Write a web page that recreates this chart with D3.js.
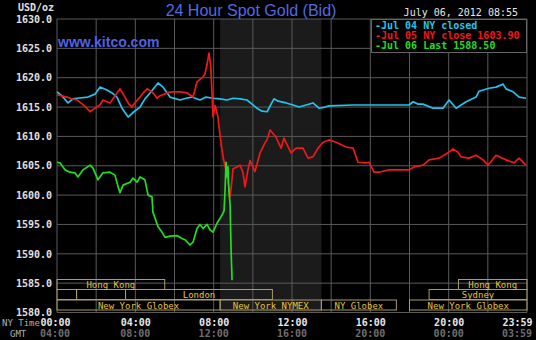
<!DOCTYPE html>
<html lang="en">
<head>
<meta charset="UTF-8">
<title>24 Hour Spot Gold (Bid)</title>
<script src="https://d3js.org/d3.v7.min.js"></script>
<style>
  body { margin: 0; background: #000; }
  text { font-family: "DejaVu Sans Mono", monospace; }
</style>
</head>
<body>
<div id="chart"></div>
<script>
// hours (NY time) and prices
const jul04 = [[0,1617.6],[0.26,1616.9],[0.56,1615.7],[0.82,1616.4],[1.02,1616.5],[1.58,1616.7],[1.94,1617.2],[2.2,1618.4],[2.55,1617.9],[2.81,1617.4],[3.06,1616.7],[3.32,1614.8],[3.63,1613.3],[3.93,1614.2],[4.24,1615.0],[4.49,1616.4],[4.75,1617.4],[5.16,1619.1],[5.41,1618.4],[5.77,1616.7],[6.28,1616.2],[6.59,1616.5],[6.89,1616.7],[7.3,1616.2],[7.61,1616.7],[7.97,1616.5],[8.32,1616.4],[8.68,1616.2],[8.99,1616.5],[9.35,1616.4],[9.7,1616.2],[9.96,1615.5],[10.21,1614.8],[10.47,1614.3],[10.73,1614.2],[10.93,1615.5],[11.08,1616.4],[11.29,1616.0],[11.7,1615.7],[12.05,1615.35],[12.36,1615.0],[12.72,1615.35],[13.07,1615.7],[13.38,1614.8],[13.69,1615.0],[13.89,1615.2],[15.12,1615.35],[17.98,1615.35],[18.18,1615.9],[18.44,1615.5],[18.69,1615.5],[19.2,1614.8],[19.71,1614.8],[20.02,1616.2],[20.38,1614.8],[20.89,1615.9],[21.4,1616.7],[21.55,1617.7],[22.06,1618.2],[22.42,1618.4],[22.78,1618.9],[22.93,1618.1],[23.29,1617.6],[23.6,1616.7],[23.95,1616.5]];

const jul05 = [[0,1617.1],[0.25,1616.9],[0.51,1616.7],[0.75,1616.4],[1.02,1616.2],[1.3,1615.5],[1.53,1614.8],[1.69,1614.2],[1.85,1614.6],[2.04,1615.0],[2.2,1615.4],[2.35,1616.2],[2.55,1615.9],[2.71,1615.7],[2.9,1616.6],[3.06,1617.4],[3.22,1618.1],[3.47,1616.7],[3.65,1615.6],[3.83,1615.0],[4.0,1615.8],[4.24,1616.7],[4.45,1617.6],[4.6,1618.1],[4.75,1617.8],[4.9,1617.4],[5.11,1616.5],[5.25,1616.9],[5.41,1617.1],[5.7,1617.5],[5.93,1617.6],[6.28,1617.6],[6.64,1617.4],[6.95,1616.7],[7.15,1619.3],[7.41,1620.0],[7.55,1620.6],[7.66,1622.2],[7.76,1624.2],[7.85,1622.0],[7.97,1613.3],[8.07,1615.3],[8.22,1613.3],[8.35,1609.5],[8.48,1606.5],[8.68,1603.5],[8.84,1599.7],[8.92,1602.1],[8.99,1604.5],[9.19,1604.8],[9.35,1605.1],[9.5,1603.8],[9.6,1601.4],[9.75,1604.3],[9.86,1605.9],[10.11,1604.0],[10.37,1607.2],[10.62,1608.9],[10.73,1609.5],[10.88,1611.1],[11.18,1609.9],[11.44,1608.0],[11.59,1609.7],[11.95,1607.2],[12.21,1608.0],[12.56,1608.0],[12.82,1606.3],[13.07,1606.5],[13.33,1608.0],[13.59,1609.0],[13.89,1609.4],[14.25,1609.0],[14.76,1608.2],[15.12,1608.0],[15.37,1605.6],[15.78,1605.5],[15.93,1605.6],[16.19,1603.9],[16.45,1603.9],[16.96,1604.3],[17.98,1604.3],[18.23,1604.8],[18.69,1605.1],[19.0,1606.0],[19.51,1606.3],[19.97,1607.2],[20.22,1607.85],[20.48,1607.3],[20.63,1606.5],[21.04,1606.3],[21.4,1606.8],[21.76,1606.0],[22.01,1605.1],[22.42,1606.8],[22.93,1606.0],[23.34,1605.5],[23.59,1606.3],[23.95,1605.1]];

const jul06 = [[0,1605.6],[0.15,1605.5],[0.41,1604.3],[0.66,1603.9],[0.92,1603.8],[1.07,1603.1],[1.33,1604.3],[1.69,1605.1],[1.84,1604.6],[2.09,1602.6],[2.35,1603.8],[2.71,1603.9],[2.96,1603.4],[3.12,1601.4],[3.22,1600.4],[3.37,1601.7],[3.73,1602.2],[3.88,1602.9],[4.09,1602.2],[4.24,1603.1],[4.49,1602.6],[4.65,1600.0],[4.85,1599.7],[4.9,1597.1],[5.16,1594.6],[5.36,1593.7],[5.52,1592.8],[5.77,1593.0],[6.13,1593.1],[6.38,1592.6],[6.54,1592.4],[6.79,1591.5],[6.95,1592.0],[7.15,1594.3],[7.3,1595.0],[7.46,1594.3],[7.66,1595.0],[7.81,1594.1],[7.97,1593.7],[8.17,1595.2],[8.43,1596.6],[8.53,1597.3],[8.58,1600.6],[8.63,1605.6],[8.68,1603.1],[8.73,1604.8],[8.78,1600.6],[8.84,1598.4],[8.89,1590.5],[8.94,1585.5]];

const priceTicks = [1580, 1585, 1590, 1595, 1600, 1605, 1610, 1615, 1620, 1625, 1630];
const hourTicks = [0, 4, 8, 12, 16, 20, 24];
const nyLabels = ["00:00", "04:00", "08:00", "12:00", "16:00", "20:00", "23:59"];
const gmtLabels = ["04:00", "08:00", "12:00", "16:00", "20:00", "00:00", "03:59"];

const legendLabels = ["-Jul 04 NY closed", "-Jul 05 NY close 1603.90", "-Jul 06 Last 1588.50"];
const seriesColors = ["#22c4ec", "#f01818", "#22dd22"];

// NYMEX pit hours shaded
const nymexStart = 8.33, nymexEnd = 13.5;

// trading session bars
const sessionNames = ["Hong Kong", "", "", "London", "New York Globex", "New York NYMEX", "NY Globex", "New York Globex", "Sydney", "Hong Kong"];
const sessionStart = [0, 0, 1, 3.5, 0, 8.33, 13.5, 18, 19, 20.5];
const sessionEnd   = [5.5, 1, 3.5, 11, 8.33, 13.5, 17.33, 24, 24, 24];
const sessionRow   = [0, 1, 1, 1, 2, 2, 2, 2, 1, 0];

const W = 536, H = 340;
const plotLeft = 57, plotRight = 527, plotTop = 19, plotBottom = 312.5;

const svg = d3.select("#chart").append("svg")
  .attr("width", W).attr("height", H)
  .style("background", "#000");

const x = d3.scaleLinear().domain([0, 24]).range([plotLeft, plotRight]);
const y = d3.scaleLinear().domain([1580, 1630]).range([plotBottom, plotTop]);

// shaded NYMEX band
svg.append("rect")
  .attr("x", x(nymexStart)).attr("y", plotTop)
  .attr("width", x(nymexEnd) - x(nymexStart)).attr("height", plotBottom - plotTop)
  .attr("fill", "#1b1b1b");

// grid
svg.append("g").selectAll("line")
  .data(d3.range(0, 25, 2)).join("line")
  .attr("x1", d => x(d)).attr("x2", d => x(d))
  .attr("y1", plotTop).attr("y2", plotBottom)
  .attr("stroke", "#5a5a5a").attr("stroke-width", 1);

svg.append("g").selectAll("line")
  .data(priceTicks).join("line")
  .attr("x1", plotLeft).attr("x2", plotRight)
  .attr("y1", d => y(d)).attr("y2", d => y(d))
  .attr("stroke", "#5a5a5a").attr("stroke-width", 1);

// y axis labels
const yAxis = svg.append("g")
  .attr("transform", `translate(${plotLeft},0)`)
  .call(d3.axisLeft(y).tickValues(priceTicks).tickFormat(d3.format(".1f")).tickSize(0).tickPadding(5));
yAxis.select(".domain").remove();
yAxis.selectAll("text")
  .attr("fill", "#e0e0e0").style("font-size", "10px").style("font-weight", "bold")
  .style("font-family", "'DejaVu Sans Mono', monospace");

svg.append("text").attr("x", 18).attr("y", 11)
  .attr("fill", "#e0e0e0").style("font-size", "10px").style("font-weight", "bold")
  .text("USD/oz");

// x axis labels (NY time)
const xAxis = svg.append("g")
  .attr("transform", `translate(0,${plotBottom})`)
  .call(d3.axisBottom(x).tickValues(hourTicks).tickFormat((d, i) => nyLabels[i]).tickSize(0).tickPadding(6));
xAxis.select(".domain").remove();
xAxis.selectAll("text")
  .attr("fill", "#e8e8e8").style("font-size", "10px").style("font-weight", "bold")
  .style("font-family", "'DejaVu Sans Mono', monospace");
xAxis.selectAll("text").filter(d => d === 24).attr("text-anchor", "end").attr("dx", 5);
xAxis.selectAll("text").filter(d => d === 0).attr("dx", -2);

// GMT labels
svg.append("g").selectAll("text")
  .data(hourTicks).join("text")
  .attr("x", d => x(d) + (d === 24 ? 5 : d === 0 ? -2 : 0))
  .attr("y", 337)
  .attr("text-anchor", d => d === 24 ? "end" : "middle")
  .attr("fill", "#6e6e6e").style("font-size", "10px").style("font-weight", "bold")
  .text((d, i) => gmtLabels[i]);

svg.append("text").attr("x", 2).attr("y", 326)
  .attr("fill", "#b0b0b0").style("font-size", "9px").text("NY Time");
svg.append("text").attr("x", 10).attr("y", 337)
  .attr("fill", "#b0b0b0").style("font-size", "9px").text("GMT");

// session bars
const rowTop = [279.5, 289.5, 300];
const rowH = 10;
const sessions = sessionNames.map((n, i) => ({ name: n, s: sessionStart[i], e: sessionEnd[i], r: sessionRow[i] }));
const sg = svg.append("g");
sg.selectAll("rect").data(sessions).join("rect")
  .attr("x", d => x(d.s)).attr("y", d => rowTop[d.r])
  .attr("width", d => x(d.e) - x(d.s)).attr("height", rowH)
  .attr("fill", "none").attr("stroke", "#a89c6c").attr("stroke-width", 1);
sg.selectAll("text").data(sessions.filter(d => d.name)).join("text")
  .attr("x", d => (x(d.s) + x(d.e)) / 2).attr("y", d => rowTop[d.r] + 8.5)
  .attr("text-anchor", "middle")
  .attr("fill", "#e6c440").style("font-size", "9px")
  .text(d => d.name);

// price lines
const line = d3.line().x(d => x(d[0])).y(d => y(d[1]));
[jul04, jul05, jul06].forEach((s, i) => {
  svg.append("path").datum(s)
    .attr("d", line).attr("fill", "none")
    .attr("stroke", seriesColors[i]).attr("stroke-width", 1.7)
    .attr("stroke-linejoin", "round");
});

// title and site
svg.append("text").attr("x", 251).attr("y", 16).attr("text-anchor", "middle")
  .attr("fill", "#5468e4").style("font-family", "'Liberation Sans', Arial, sans-serif")
  .style("font-size", "16px").text("24 Hour Spot Gold (Bid)");
svg.append("text").attr("x", 58).attr("y", 47)
  .attr("fill", "#4f62e0").style("font-family", "'Liberation Sans', Arial, sans-serif")
  .style("font-size", "14px").style("font-weight", "bold").text("www.kitco.com");

svg.append("text").attr("x", 518).attr("y", 16).attr("text-anchor", "end")
  .attr("fill", "#e8e8e8").style("font-size", "10px").text("July 06, 2012 08:55");

// legend
svg.append("rect").attr("x", 371.5).attr("y", 19.5).attr("width", 155).attr("height", 33)
  .attr("fill", "#000").attr("stroke", "#666");
svg.append("g").selectAll("text").data(legendLabels).join("text")
  .attr("x", 375).attr("y", (d, i) => 29 + i * 10)
  .attr("fill", (d, i) => seriesColors[i])
  .style("font-size", "10px").style("font-weight", "bold")
  .text(d => d);
</script>
</body>
</html>
